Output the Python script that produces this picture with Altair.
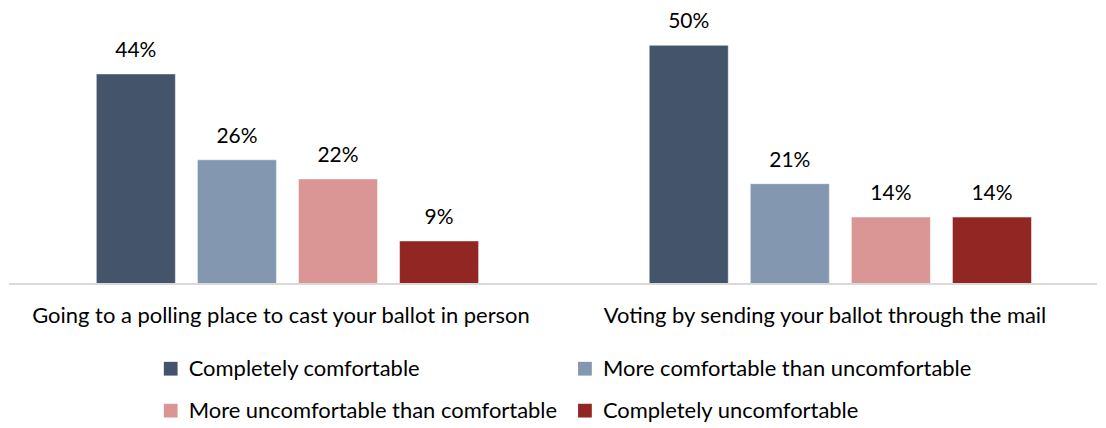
import altair as alt
import pandas as pd

groups = ["Going to a polling place to cast your ballot in person",
          "Voting by sending your ballot through the mail"]
series = ["Completely comfortable", "More comfortable than uncomfortable",
          "More uncomfortable than comfortable", "Completely uncomfortable"]
in_person = [44, 26, 22, 9]
by_mail = [50, 21, 14, 14]
colors = ["#44546A", "#8497B0", "#DA9694", "#922622"]

rows = []
for g, vals in zip(groups, [in_person, by_mail]):
    for s, v in zip(series, vals):
        rows.append({"group": g, "series": s, "value": v, "label": f"{v}%"})
df = pd.DataFrame(rows)

FONT = "Lato"
W, H = 1090, 276

x_enc = alt.X("group:N", sort=groups, title=None,
              scale=alt.Scale(paddingInner=0, paddingOuter=0),
              axis=alt.Axis(labelFontSize=22, labelFont=FONT, labelColor="#000000",
                            ticks=False, domain=False, labelPadding=22, labelAngle=0,
                            labelLimit=0))
y_enc = alt.Y("value:Q", scale=alt.Scale(domain=[0, 57.74], nice=False), axis=None)
color_enc = alt.Color("series:N", sort=series,
                      scale=alt.Scale(domain=series, range=colors),
                      legend=alt.Legend(title=None, orient="none", legendX=151, legendY=350,
                                        columns=2, direction="horizontal",
                                        symbolType="square", symbolSize=190,
                                        symbolStrokeWidth=0, labelFontSize=22, labelFont=FONT,
                                        labelColor="#000000", columnPadding=16, rowPadding=20,
                                        labelOffset=7, labelLimit=0))


def group_layer(gname, align):
    xo = alt.XOffset("series:N", sort=series,
                     scale=alt.Scale(paddingInner=0.2178, paddingOuter=0.8, align=align))
    base = alt.Chart(df).transform_filter(alt.datum.group == gname)
    bars = base.mark_bar(stroke="white", strokeWidth=0.5).encode(
        x=x_enc, xOffset=xo, y=y_enc, color=color_enc)
    text = base.mark_text(fontSize=21, font=FONT, color="#000000", baseline="alphabetic",
                          dy=-17).encode(x=x_enc, xOffset=xo, y=y_enc, text="label:N")
    return alt.layer(bars, text)


rule = alt.Chart(df).mark_rule(color="#D9D9D9", strokeWidth=1.5).encode(
    x=alt.value(0), x2=alt.value(1090), y=alt.value(H))

chart = alt.layer(
    group_layer(groups[0], 0.54), group_layer(groups[1], 0.595), rule
).resolve_scale(xOffset="independent").properties(
    width=W, height=H, padding=0
).configure_view(stroke=None)

chart.save("out.html", embed_options={"renderer": "svg", "actions": False})
